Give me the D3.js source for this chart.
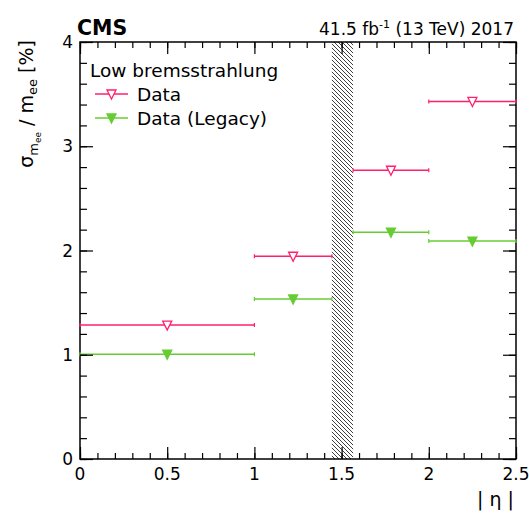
<!DOCTYPE html>
<html>
<head>
<meta charset="utf-8">
<script src="https://cdn.jsdelivr.net/npm/d3@7"></script>
<style>
  body { margin: 0; background: #fff; }
  text { font-family: "DejaVu Sans", sans-serif; fill: #000; }
</style>
</head>
<body>
<svg></svg>
<script>
// bin edges in |eta| and centres of the markers
const binLow = [0, 1, 1.566, 2];
const binHigh = [1, 1.4442, 2, 2.5];
const binCentre = [0.5, 1.222, 1.783, 2.25];
const dataValues = [1.285, 1.945, 2.77, 3.43];
const legacyValues = [1.005, 1.535, 2.175, 2.09];
const gap = [1.4442, 1.566];
const xTicks = [0, 0.5, 1, 1.5, 2, 2.5];
const yTicks = [0, 1, 2, 3, 4];

const svgWidth = 529;
const svgHeight = 514;
const plotLeft = 80, plotRight = 516, plotTop = 42, plotBottom = 459;

const red = '#ff1f6e';
const green = '#66cc33';

const svg = d3.select('svg')
    .attr('width', svgWidth)
    .attr('height', svgHeight);

const xScale = d3.scaleLinear().domain([0, 2.5]).range([plotLeft, plotRight]);
const yScale = d3.scaleLinear().domain([0, 4]).range([plotBottom, plotTop]);

// hatched gap region
const defs = svg.append('defs');
defs.append('pattern')
    .attr('id', 'hatch')
    .attr('patternUnits', 'userSpaceOnUse')
    .attr('width', 4)
    .attr('height', 4)
    .append('path')
    .attr('d', 'M-1,-1 L5,5 M-1,3 L1,5 M3,-1 L5,1')
    .attr('stroke', '#000')
    .attr('stroke-width', 0.75);

svg.append('rect')
    .attr('x', xScale(gap[0]))
    .attr('y', yScale(4))
    .attr('width', xScale(gap[1]) - xScale(gap[0]))
    .attr('height', yScale(0) - yScale(4))
    .attr('fill', 'url(#hatch)');

// frame
svg.append('rect')
    .attr('x', plotLeft)
    .attr('y', plotTop)
    .attr('width', plotRight - plotLeft)
    .attr('height', plotBottom - plotTop)
    .attr('fill', 'none')
    .attr('stroke', '#000')
    .attr('stroke-width', 1.5);

// tick labels
svg.append('g').selectAll('text')
    .data(xTicks)
    .enter()
    .append('text')
    .attr('x', d => xScale(d))
    .attr('y', plotBottom + 21)
    .attr('text-anchor', 'middle')
    .attr('font-size', 17)
    .text(d => d);

svg.append('g').selectAll('text')
    .data(yTicks)
    .enter()
    .append('text')
    .attr('x', plotLeft - 7)
    .attr('y', d => yScale(d) + 6)
    .attr('text-anchor', 'end')
    .attr('font-size', 17)
    .text(d => d);

// data series
function drawSeries(values, colour, filled) {
    const g = svg.append('g');
    values.forEach((v, i) => {
        const y = yScale(v);
        const x0 = xScale(binLow[i]);
        const x1 = xScale(binHigh[i]);
        g.append('line')
            .attr('x1', x0).attr('x2', x1)
            .attr('y1', y).attr('y2', y)
            .attr('stroke', colour)
            .attr('stroke-width', 1.5);
        [x0, x1].forEach(xe => {
            g.append('line')
                .attr('x1', xe).attr('x2', xe)
                .attr('y1', y - 2).attr('y2', y + 2)
                .attr('stroke', colour)
                .attr('stroke-width', 1.2);
        });
        marker(g, xScale(binCentre[i]), y, colour, filled);
    });
}

function marker(g, x, y, colour, filled) {
    g.append('path')
        .attr('d', `M${x - 4.5},${y - 4} L${x + 4.5},${y - 4} L${x},${y + 5} Z`)
        .attr('fill', filled ? colour : '#fff')
        .attr('stroke', colour)
        .attr('stroke-width', 1.3);
}

drawSeries(dataValues, red, false);
drawSeries(legacyValues, green, true);

// legend
svg.append('text')
    .attr('x', 90)
    .attr('y', 77)
    .attr('font-size', 18.5)
    .text('Low bremsstrahlung');

const legend = [
    { label: 'Data', colour: red, filled: false, y: 94 },
    { label: 'Data (Legacy)', colour: green, filled: true, y: 118 }
];
legend.forEach(l => {
    svg.append('line')
        .attr('x1', 95).attr('x2', 128)
        .attr('y1', l.y).attr('y2', l.y)
        .attr('stroke', l.colour)
        .attr('stroke-width', 1.5);
    marker(svg, 111.5, l.y, l.colour, l.filled);
    svg.append('text')
        .attr('x', 137)
        .attr('y', l.y + 7)
        .attr('font-size', 18.5)
        .text(l.label);
});

// header
svg.append('text')
    .attr('x', 77)
    .attr('y', 35)
    .attr('font-size', 20.5)
    .attr('font-weight', 'bold')
    .text('CMS');

const lumi = svg.append('text')
    .attr('x', plotRight - 2)
    .attr('y', 35)
    .attr('text-anchor', 'end')
    .attr('font-size', 17);
lumi.append('tspan').text('41.5 fb');
lumi.append('tspan').attr('dy', -7).attr('font-size', 11).text('-1');
lumi.append('tspan').attr('dy', 7).text(' (13 TeV) 2017');

// axis titles
svg.append('text')
    .attr('x', plotRight - 2)
    .attr('y', 506)
    .attr('text-anchor', 'end')
    .attr('font-size', 19)
    .text('| η |');

const yTitle = svg.append('text')
    .attr('transform', `translate(33, ${plotTop - 2}) rotate(-90)`)
    .attr('text-anchor', 'end')
    .attr('font-size', 19);
yTitle.append('tspan').text('σ');
yTitle.append('tspan').attr('dy', 5).attr('font-size', 13).text('m');
yTitle.append('tspan').attr('dy', 3).attr('font-size', 9).text('ee');
yTitle.append('tspan').attr('dy', -8).text(' / m');
yTitle.append('tspan').attr('dy', 4).attr('font-size', 13).text('ee');
yTitle.append('tspan').attr('dy', -4).text(' [%]');

// inward ticks on all four sides, drawn last so nothing covers them
const xMinor = d3.range(0, 26).map(i => i / 10);
const yMinor = d3.range(0, 21).map(i => i / 5);

function inwardAxis(axis, translate, size) {
    svg.append('g')
        .attr('transform', translate)
        .call(axis.tickSize(size).tickFormat(() => ''))
        .call(g => g.select('.domain').remove())
        .call(g => g.selectAll('.tick line')
            .attr('stroke', '#000')
            .attr('stroke-width', 1.2));
}
inwardAxis(d3.axisTop(xScale).tickValues(xMinor), `translate(0,${plotBottom})`, 6);
inwardAxis(d3.axisTop(xScale).tickValues(xTicks), `translate(0,${plotBottom})`, 12);
inwardAxis(d3.axisBottom(xScale).tickValues(xMinor), `translate(0,${plotTop})`, 6);
inwardAxis(d3.axisBottom(xScale).tickValues(xTicks), `translate(0,${plotTop})`, 12);
inwardAxis(d3.axisRight(yScale).tickValues(yMinor), `translate(${plotLeft},0)`, 7);
inwardAxis(d3.axisRight(yScale).tickValues(yTicks), `translate(${plotLeft},0)`, 13);
inwardAxis(d3.axisLeft(yScale).tickValues(yMinor), `translate(${plotRight},0)`, 7);
inwardAxis(d3.axisLeft(yScale).tickValues(yTicks), `translate(${plotRight},0)`, 13);
</script>
</body>
</html>
